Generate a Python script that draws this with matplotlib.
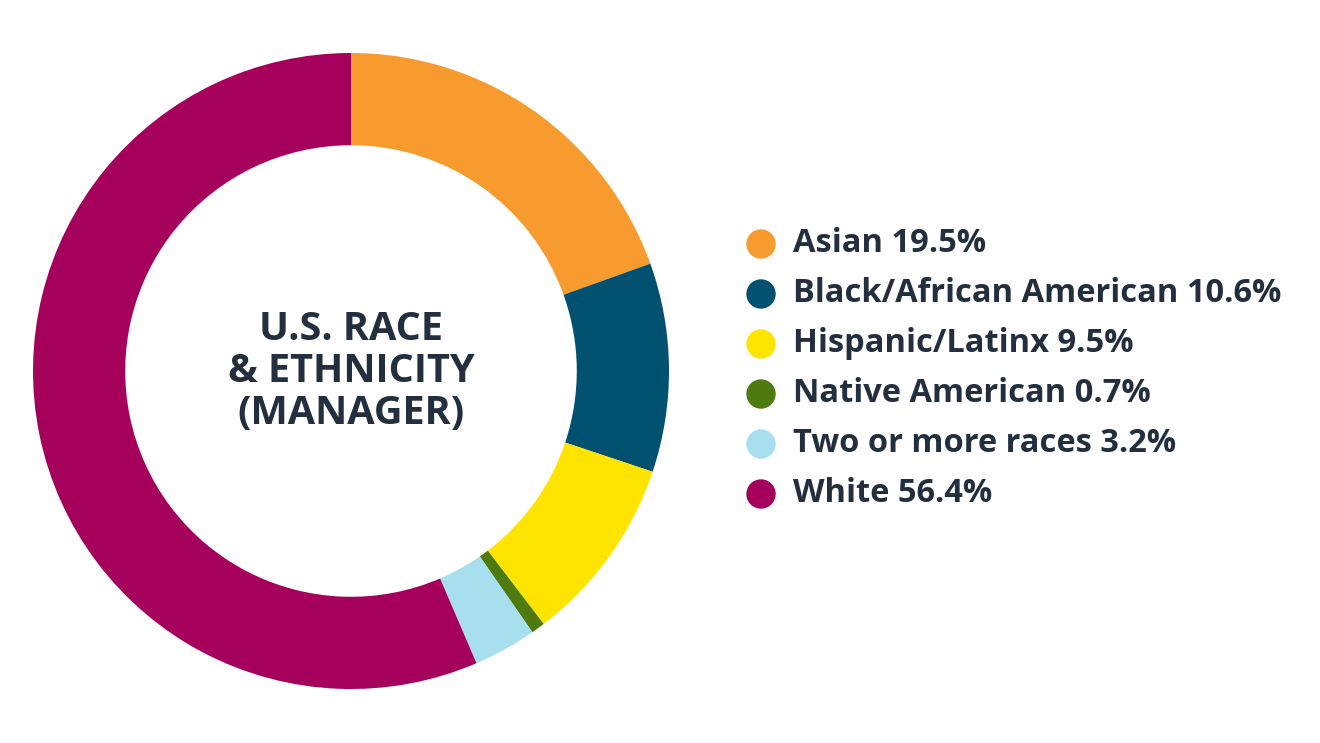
import matplotlib
matplotlib.use("Agg")
import matplotlib.pyplot as plt

categories = ["Asian", "Black/African American", "Hispanic/Latinx", "Native American", "Two or more races", "White"]
values = [19.5, 10.6, 9.5, 0.7, 3.2, 56.4]
colors = ["#F79B2E", "#00506F", "#FFE400", "#4E7A0E", "#A8DFEE", "#A5005B"]
title_lines = "U.S. RACE\n& ETHNICITY\n(MANAGER)"

W, H = 1320, 743
fig = plt.figure(figsize=(W/100, H/100), dpi=100)
cx, cy, r = 351, 371, 318
ax = fig.add_axes([(cx-r)/W, 1-(cy+r)/H, 2*r/W, 2*r/H])
ax.pie(values, colors=colors, startangle=90, counterclock=False, radius=1,
       wedgeprops=dict(width=0.29, linewidth=0))
ax.set_xlim(-1, 1); ax.set_ylim(-1, 1); ax.set_aspect("equal"); ax.axis("off")
ax.text(0, 0, title_lines, ha="center", va="center", fontsize=28.5, fontweight="bold",
        color="#232F3E", family="Open Sans", linespacing=1.1)

for i, (c, v, col) in enumerate(zip(categories, values, colors)):
    y = 1 - (244 + 50*i)/H
    fig.patches.append(matplotlib.patches.Ellipse((761/W, y), 28/W, 28/H, color=col,
                                                  transform=fig.transFigure))
    fig.text(793/W, y, f"{c} {v}%", ha="left", va="center", fontsize=23.5,
             fontweight="bold", color="#232F3E", family="Open Sans")

fig.savefig("out.png", dpi=100)
